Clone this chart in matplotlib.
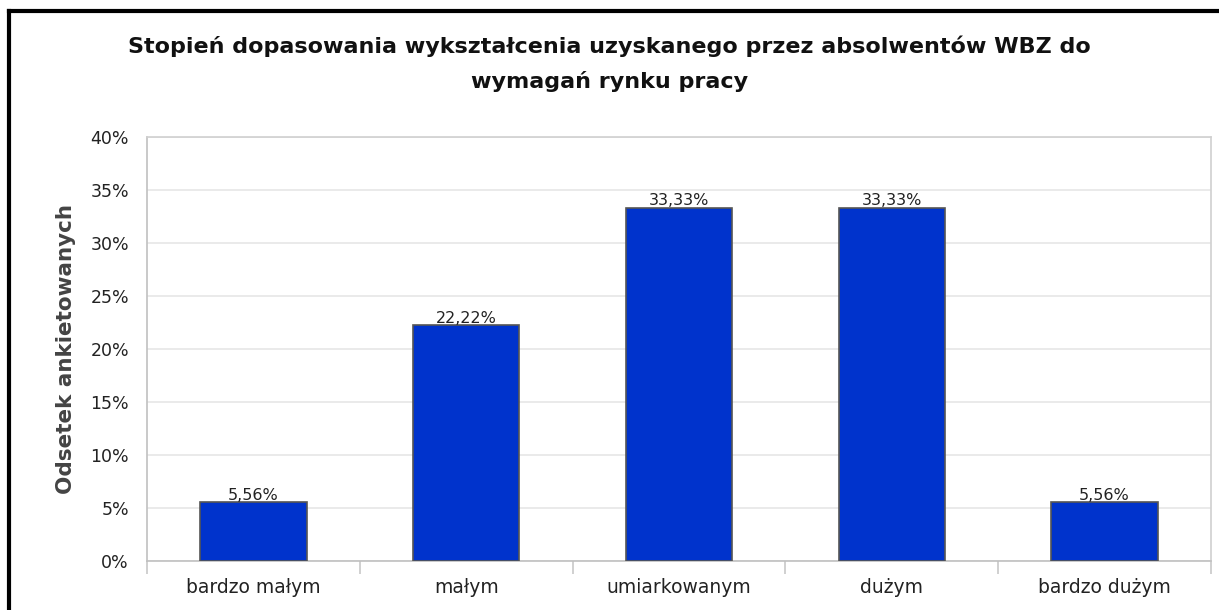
import matplotlib
matplotlib.use("Agg")
import matplotlib.pyplot as plt
from matplotlib.lines import Line2D
from matplotlib.ticker import FuncFormatter, FixedLocator

categories = ["bardzo małym", "małym", "umiarkowanym", "dużym", "bardzo dużym"]
values = [5.56, 22.22, 33.33, 33.33, 5.56]
yticks = [0, 5, 10, 15, 20, 25, 30, 35, 40]
title = "Stopień dopasowania wykształcenia uzyskanego przez absolwentów WBZ do\nwymagań rynku pracy"
ylabel = "Odsetek ankietowanych"

fig = plt.figure(figsize=(12.19, 6.10), dpi=100)
ax = fig.add_axes([147/1219, 49/610, (1211-147)/1219, (561-137)/610])

x = list(range(len(categories)))
ax.bar(x, values, width=0.5, color="#0033cc", edgecolor="#555555", linewidth=1.2, zorder=3)
for xi, v in zip(x, values):
    ax.text(xi, v - 0.05, f"{v:.2f}%".replace(".", ","), ha="center", va="bottom",
            fontsize=11.5, color="#222222", zorder=4)

ax.set_xlim(-0.5, len(categories) - 0.5)
ax.set_ylim(0, 40)
ax.set_yticks(yticks)
ax.yaxis.set_major_formatter(FuncFormatter(lambda v, p: f"{v:.0f}%"))
ax.tick_params(axis="y", length=0, pad=13, labelsize=12.5, labelcolor="#222222")
ax.grid(axis="y", color="#e6e6e6", linewidth=1.2, zorder=0)
ax.set_axisbelow(True)

ax.set_xticks(x)
ax.set_xticklabels(categories)
ax.tick_params(axis="x", which="major", length=0, pad=12, labelsize=13.5, labelcolor="#222222")
ax.xaxis.set_minor_locator(FixedLocator([i + 0.5 for i in range(-1, len(categories))]))
ax.tick_params(axis="x", which="minor", length=9, width=1.2, color="#c8c8c8")

for s in ax.spines.values():
    s.set_color("#d0d0d0")
    s.set_linewidth(1.2)
ax.spines["left"].set_color("#c0c0c0")
ax.spines["bottom"].set_color("#c0c0c0")

ax.set_ylabel(ylabel, fontsize=15.5, fontweight="bold", color="#444444", labelpad=10)
fig.text(0.5, 1 - 64/610, title, ha="center", va="center", fontsize=16, fontweight="bold",
         color="#111111", linespacing=1.85)

# outer black frame (top and left)
fig.add_artist(Line2D([9/1219, 1.0], [1 - 11/610, 1 - 11/610], color="black", linewidth=3,
                      transform=fig.transFigure))
fig.add_artist(Line2D([9/1219, 9/1219], [0, 1 - 11/610], color="black", linewidth=3,
                      transform=fig.transFigure))

fig.savefig("out.png", dpi=100)
